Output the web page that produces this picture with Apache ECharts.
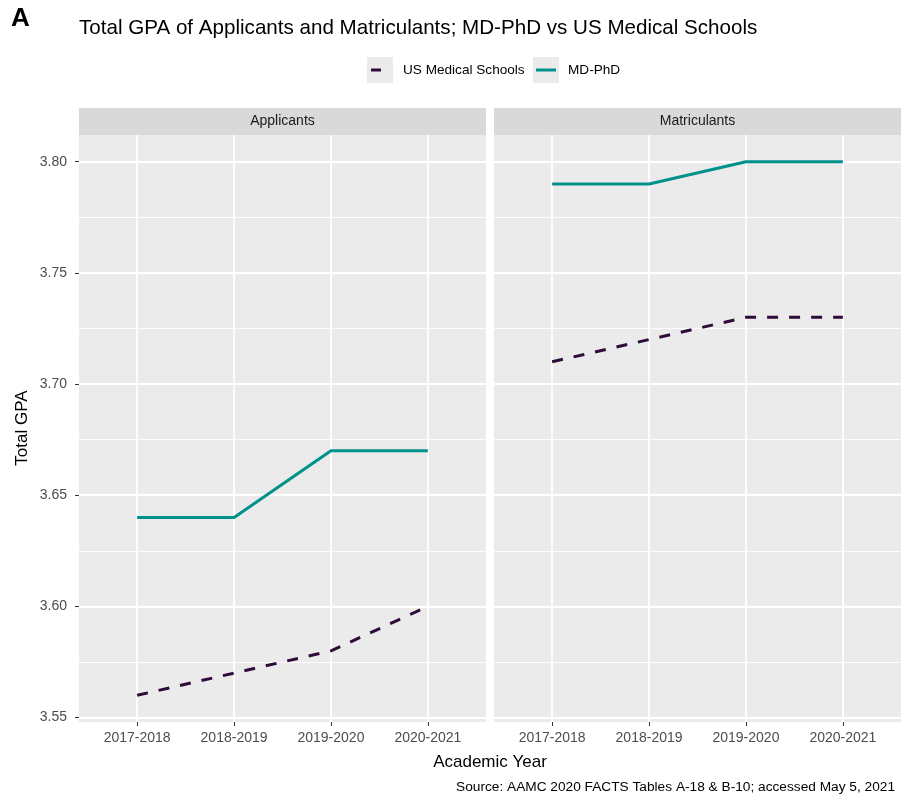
<!DOCTYPE html>
<html>
<head>
<meta charset="utf-8">
<script src="https://cdn.jsdelivr.net/npm/echarts@6/dist/echarts.min.js"></script>
<style>
  html, body { margin: 0; padding: 0; background: #fff; }
  #chart { width: 903px; height: 797px; }
</style>
</head>
<body>
<div id="chart"></div>
<script>
// Academic years shown on both facets
const years = ['2017-2018', '2018-2019', '2019-2020', '2020-2021'];
// Facet names
const facets = ['Applicants', 'Matriculants'];
// Total GPA, applicants
const applicantsUS = [3.56, 3.57, 3.58, 3.60];
const applicantsMDPhD = [3.64, 3.64, 3.67, 3.67];
// Total GPA, matriculants
const matriculantsUS = [3.71, 3.72, 3.73, 3.73];
const matriculantsMDPhD = [3.79, 3.79, 3.80, 3.80];
// Y axis tick labels and minor grid positions
const yTicks = [3.55, 3.60, 3.65, 3.70, 3.75, 3.80];
const yMinor = [3.575, 3.625, 3.675, 3.725, 3.775];

const seriesNames = ['US Medical Schools', 'MD-PhD'];
const usColor = '#2e0b3a';
const mdColor = '#00918b';
const font = '"Liberation Sans", Arial, sans-serif';

const panelTop = 135, panelH = 587, panelW = 407;
const panelLefts = [79, 494];
const stripH = 27;

const chart = echarts.init(document.getElementById('chart'));

const grids = panelLefts.map(l => ({
  left: l, top: panelTop, width: panelW, height: panelH,
  show: true, backgroundColor: '#ebebeb', borderWidth: 0
}));

const xIdx = years.map((_, i) => i);
const xAxes = panelLefts.map((_, g) => ({
  type: 'value', gridIndex: g, min: -0.6, max: 3.6,
  axisLine: { show: false, onZero: false },
  axisTick: { show: true, customValues: xIdx, length: 4, lineStyle: { color: '#333', width: 1 } },
  axisLabel: {
    customValues: xIdx, margin: 9, color: '#4d4d4d', fontSize: 14, fontFamily: font,
    formatter: v => years[Math.round(v)]
  },
  splitLine: { show: true, lineStyle: { color: '#ffffff', width: 1.8 } }
}));

const yAxes = [];
panelLefts.forEach((_, g) => {
  yAxes.push({
    type: 'value', gridIndex: g, min: 3.548, max: 3.812,
    axisLine: { show: false, onZero: false },
    axisTick: { show: g === 0, customValues: yTicks, length: 4, lineStyle: { color: '#333', width: 1 } },
    axisLabel: {
      show: g === 0, customValues: yTicks, margin: 12, color: '#4d4d4d', fontSize: 14, fontFamily: font,
      formatter: v => v.toFixed(2)
    },
    splitLine: { show: true, lineStyle: { color: '#ffffff', width: 1.8 } }
  });
  yAxes.push({
    type: 'value', gridIndex: g, min: 3.548, max: 3.812,
    axisLine: { show: false, onZero: false },
    axisTick: { show: false, customValues: yMinor },
    axisLabel: { show: false, customValues: yMinor },
    splitLine: { show: true, lineStyle: { color: '#ffffff', width: 0.9 } }
  });
});

function lineSeries(name, vals, g, dashed) {
  return {
    name, type: 'line', xAxisIndex: g, yAxisIndex: g * 2,
    data: vals.map((v, i) => [i, v]),
    showSymbol: false, silent: true, z: 5,
    lineStyle: dashed
      ? { color: usColor, width: 3, type: [11, 11] }
      : { color: mdColor, width: 3 }
  };
}

const series = [
  lineSeries(seriesNames[0], applicantsUS, 0, true),
  lineSeries(seriesNames[1], applicantsMDPhD, 0, false),
  lineSeries(seriesNames[0], matriculantsUS, 1, true),
  lineSeries(seriesNames[1], matriculantsMDPhD, 1, false)
];

// Facet strips
const strips = [];
panelLefts.forEach((l, g) => {
  strips.push({
    type: 'rect', left: l, top: panelTop - stripH,
    shape: { width: panelW, height: stripH }, style: { fill: '#d9d9d9' }
  });
  strips.push({
    type: 'text', x: l + panelW / 2, y: panelTop - stripH / 2,
    style: { text: facets[g], fill: '#1a1a1a', font: '14px ' + font, align: 'center', verticalAlign: 'middle' }
  });
});

// Legend keys
const legendY = 70;
const legendItems = [
  { type: 'rect', shape: { x: 367, y: legendY - 13, width: 26, height: 26 }, style: { fill: '#ebebeb' } },
  { type: 'line', shape: { x1: 371, y1: legendY, x2: 389, y2: legendY }, style: { stroke: usColor, lineWidth: 3, lineDash: [10, 12] } },
  { type: 'text', x: 403, y: legendY, style: { text: seriesNames[0], fill: '#000', font: '13.6px ' + font, verticalAlign: 'middle' } },
  { type: 'rect', shape: { x: 533, y: legendY - 13, width: 26, height: 26 }, style: { fill: '#ebebeb' } },
  { type: 'line', shape: { x1: 536, y1: legendY, x2: 556, y2: legendY }, style: { stroke: mdColor, lineWidth: 3 } },
  { type: 'text', x: 568, y: legendY, style: { text: seriesNames[1], fill: '#000', font: '13.6px ' + font, verticalAlign: 'middle' } }
];

const texts = [
  { type: 'text', x: 11, y: 19, style: { text: 'A', fill: '#000', font: 'bold 26px ' + font, verticalAlign: 'middle' } },
  { type: 'text', x: 79, y: 28, style: { text: 'Total GPA of Applicants and Matriculants; MD-PhD vs US Medical Schools', fill: '#000', font: '20.6px ' + font, verticalAlign: 'middle' } },
  { type: 'text', x: 490, y: 762, style: { text: 'Academic Year', fill: '#000', font: '17px ' + font, align: 'center', verticalAlign: 'middle' } },
  { type: 'text', x: 22, y: 428, rotation: Math.PI / 2, style: { text: 'Total GPA', fill: '#000', font: '17px ' + font, align: 'center', verticalAlign: 'middle' } },
  { type: 'text', x: 895, y: 787, style: { text: 'Source: AAMC 2020 FACTS Tables A-18 & B-10; accessed May 5, 2021', fill: '#000', font: '13.7px ' + font, align: 'right', verticalAlign: 'middle' } }
];

chart.setOption({
  animation: false,
  backgroundColor: '#ffffff',
  grid: grids,
  xAxis: xAxes,
  yAxis: yAxes,
  series,
  graphic: [...strips, ...legendItems, ...texts]
});
</script>
</body>
</html>
